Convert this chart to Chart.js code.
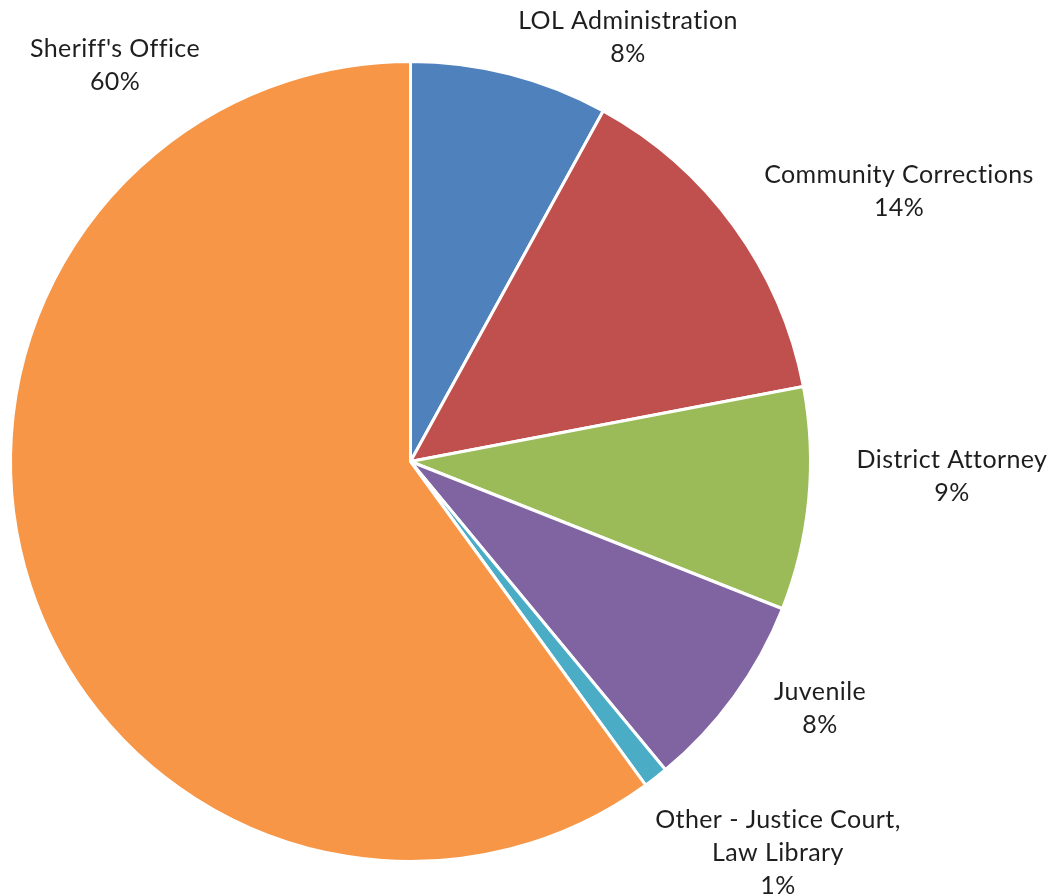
<!DOCTYPE html>
<html>
<head>
<meta charset="utf-8">
<script src="https://cdn.jsdelivr.net/npm/chart.js@4"></script>
<style>
  html, body { margin: 0; padding: 0; background: #ffffff; }
  canvas { display: block; }
</style>
</head>
<body>
<canvas id="budget" width="1056" height="895"></canvas>
<script>
// Share of the justice budget by department, clockwise from 12 o'clock
const categories = [
  "LOL Administration",
  "Community Corrections",
  "District Attorney",
  "Juvenile",
  "Other - Justice Court, Law Library",
  "Sheriff's Office"
];
const shares = [8, 14, 9, 8, 1, 60];

// How each category name wraps in its data label
const labelLines = [
  ["LOL Administration"],
  ["Community Corrections"],
  ["District Attorney"],
  ["Juvenile"],
  ["Other - Justice Court,", "Law Library"],
  ["Sheriff's Office"]
];

const sliceColors = ["#4F81BD", "#C0504D", "#9BBB59", "#8064A2", "#4BACC6", "#F79646"];

// Centre of the first line of each data label (canvas pixels)
const labelAnchors = [
  [628, 21],
  [899, 175],
  [952, 460],
  [820, 692],
  [778, 820],
  [115, 49]
];

const LABEL_FONT = "25px Lato, 'Noto Sans', sans-serif";
const LINE_HEIGHT = 33;

const dataLabels = {
  id: "dataLabels",
  afterDraw(chart) {
    const ctx = chart.ctx;
    const ds = chart.data.datasets[0];
    ctx.save();
    ctx.font = LABEL_FONT;
    ctx.letterSpacing = "0.4px";
    ctx.fillStyle = "#1e1e1e";
    ctx.textAlign = "center";
    ctx.textBaseline = "middle";
    ds.data.forEach((v, i) => {
      const lines = labelLines[i].concat([v + "%"]);
      const [x, y] = labelAnchors[i];
      lines.forEach((t, k) => ctx.fillText(t, x, y + k * LINE_HEIGHT));
    });
    ctx.restore();
  }
};

new Chart(document.getElementById("budget"), {
  type: "pie",
  data: {
    labels: categories,
    datasets: [{
      data: shares,
      backgroundColor: sliceColors,
      borderColor: "#ffffff",
      borderWidth: 3
    }]
  },
  options: {
    responsive: false,
    animation: false,
    layout: { padding: { left: 9, right: 244, top: 60, bottom: 32 } },
    plugins: {
      legend: { display: false },
      tooltip: { enabled: false }
    }
  },
  plugins: [dataLabels]
});
</script>
</body>
</html>
